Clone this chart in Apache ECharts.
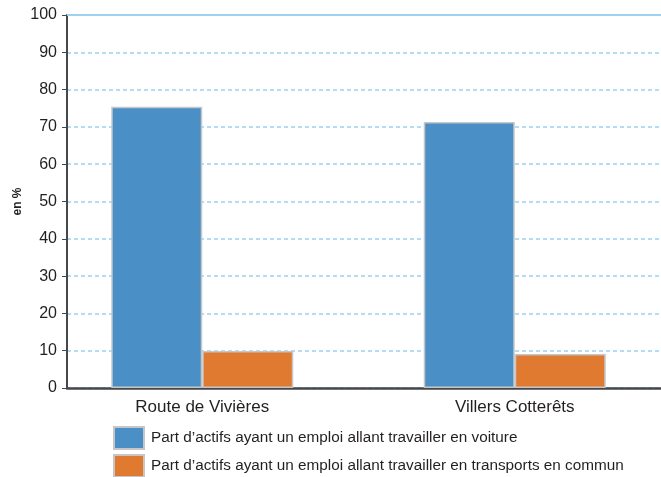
<!DOCTYPE html>
<html>
<head>
<meta charset="utf-8">
<script src="https://cdn.jsdelivr.net/npm/echarts@6/dist/echarts.min.js"></script>
<style>
html,body{margin:0;padding:0;background:#fff;}
#chart{width:661px;height:477px;}
</style>
</head>
<body>
<div id="chart"></div>
<script>
const categories = ["Route de Vivières", "Villers Cotterêts"];
const seriesNames = [
  "Part d\u2019actifs ayant un emploi allant travailler en voiture",
  "Part d\u2019actifs ayant un emploi allant travailler en transports en commun"
];
const voiture = [75.4, 71.3];
const transports = [9.9, 9.1];
const yTicks = { min: 0, max: 100, interval: 10 };
const yAxisName = "en %";

const chart = echarts.init(document.getElementById('chart'), null, {renderer: 'canvas'});
const font = "'Liberation Sans', Arial, Helvetica, sans-serif";
const legendText = { fontSize: 15.3, color: '#231f20', fontFamily: font, padding: [0, 0, 0, 2] };
const option = {
  animation: false,
  textStyle: { fontFamily: font },
  grid: [
    { left: 67, right: 0, top: 15, bottom: 89, containLabel: false, outerBoundsMode: 'none' },
    { left: 46, width: 625, top: 15, bottom: 89, containLabel: false, outerBoundsMode: 'none' }
  ],
  xAxis: [
    { type: 'category', gridIndex: 0, data: categories,
      axisLine: { show: true, lineStyle: { color: '#45474b', width: 2.5 } },
      axisTick: { show: false }, axisLabel: { show: false }, splitLine: { show: false } },
    { type: 'category', gridIndex: 1, data: categories,
      axisLine: { show: false }, axisTick: { show: false },
      axisLabel: { show: true, color: '#231f20', fontSize: 17, margin: 11, fontFamily: font } }
  ],
  yAxis: [
    { type: 'value', gridIndex: 0, min: yTicks.min, max: yTicks.max, interval: yTicks.interval,
      name: yAxisName, nameLocation: 'middle', nameGap: 43, nameRotate: 90, nameMoveOverlap: false,
      nameTextStyle: { fontSize: 12, fontWeight: 'bold', color: '#231f20', fontFamily: font },
      axisLine: { show: true, lineStyle: { color: '#45474b', width: 2 } },
      axisTick: { show: true, length: 5, lineStyle: { color: '#45474b', width: 1 } },
      axisLabel: { color: '#231f20', fontSize: 16, margin: 10, fontFamily: font },
      splitLine: { show: true, lineStyle: { color: '#9fd1f0', width: 1.5, type: [4, 3] } } },
    { type: 'value', gridIndex: 1, min: yTicks.min, max: yTicks.max, interval: yTicks.interval,
      show: false, splitLine: { show: false } }
  ],
  legend: [
    { orient: 'vertical', left: 108, top: 421, itemWidth: 30, itemHeight: 22, icon: 'rect',
      textStyle: legendText, data: [seriesNames[0]] },
    { orient: 'vertical', left: 108, top: 449, itemWidth: 30, itemHeight: 22, icon: 'rect',
      textStyle: legendText, data: [seriesNames[1]] }
  ],
  series: [
    { name: seriesNames[0], type: 'bar', xAxisIndex: 1, yAxisIndex: 1, data: voiture,
      barWidth: 91, barGap: '0%',
      itemStyle: { color: '#4a90c6', borderColor: '#c6c6c6', borderWidth: 1.5 } },
    { name: seriesNames[1], type: 'bar', xAxisIndex: 1, yAxisIndex: 1, data: transports,
      barWidth: 91, barGap: '0%',
      itemStyle: { color: '#e07a30', borderColor: '#c6c6c6', borderWidth: 1.5 } },
    { type: 'line', xAxisIndex: 0, yAxisIndex: 0, data: [], silent: true,
      markLine: { silent: true, symbol: 'none', label: { show: false },
        lineStyle: { color: '#9fd1f0', width: 2, type: 'solid' },
        data: [{ yAxis: yTicks.max }] } }
  ]
};
chart.setOption(option);
</script>
</body>
</html>
